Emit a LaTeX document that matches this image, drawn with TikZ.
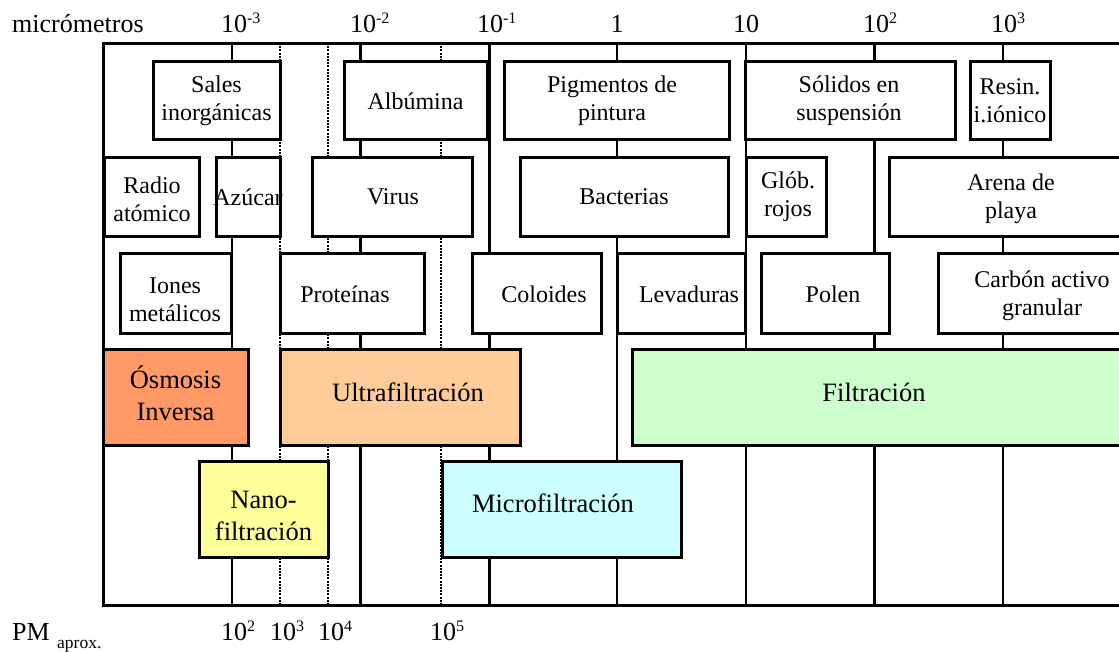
\documentclass[tikz,border=0pt]{standalone}
\usepackage{fontspec}
\setmainfont{Liberation Serif}
\newcommand\boxfont{\fontsize{24}{28}\selectfont}
\newcommand\procfont{\fontsize{26.5}{32}\selectfont}
\newcommand\axfont{\fontsize{26}{30}\selectfont}
\newcommand\supx[1]{\rlap{\raisebox{9pt}{\fontsize{16}{16}\selectfont #1}}}
\definecolor{cosm}{HTML}{FF9966}
\definecolor{cultra}{HTML}{FFCC99}
\definecolor{cnano}{HTML}{FFFF99}
\definecolor{cmicro}{HTML}{CCFFFF}
\definecolor{cfilt}{HTML}{CCFFCC}
\tikzset{
  gridthin/.style={line width=2.2pt},
  gridthick/.style={line width=3pt},
  griddot/.style={line width=2.4pt, dash pattern=on 2pt off 1.2pt},
  frameline/.style={line width=3pt},
  box/.style={draw, line width=3pt, fill=white, inner sep=0pt, outer sep=0pt},
  boxlbl/.style={font=\boxfont, align=center, inner sep=0pt},
  proclbl/.style={font=\procfont, align=center, inner sep=0pt},
  axlbl/.style={font=\axfont, inner sep=0pt},
}
\begin{document}
\begin{tikzpicture}[x=1pt,y=-1pt]
\useasboundingbox (0,0) rectangle (1119,651);
\clip (0,0) rectangle (1119,651);
% grid lines
\foreach \x in {232,617,746,1003} \draw[gridthin] (\x,43) -- (\x,605);
\foreach \x in {360,489,874} \draw[gridthick] (\x,43) -- (\x,605);
\foreach \x in {280,328,441} \draw[griddot] (\x,43) -- (\x,605);
\draw[frameline] (1130,43) -- (103,43) -- (103,605) -- (1130,605);

% row 1
\node[box, minimum width=127, minimum height=78] (sales) at (216.5,100) {};
\node[box, minimum width=143, minimum height=78] (albumina) at (415.5,100) {};
\node[box, minimum width=225, minimum height=78] (pigmentos) at (616.5,100) {};
\node[box, minimum width=210, minimum height=78] (solidos) at (850,100) {};
\node[box, minimum width=80, minimum height=78] (resin) at (1010,100) {};
% row 2
\node[box, minimum width=95, minimum height=79] (radio) at (151.5,196.5) {};
\node[box, minimum width=64, minimum height=79] (azucar) at (248,196.5) {};
\node[box, minimum width=160, minimum height=79] (virus) at (392,196.5) {};
\node[box, minimum width=208, minimum height=79] (bacterias) at (624,196.5) {};
\node[box, minimum width=80, minimum height=79] (globulos) at (786,196.5) {};
\node[box, minimum width=244, minimum height=79] (arena) at (1011,196.5) {};
% row 3
\node[box, minimum width=111, minimum height=80] (iones) at (175.5,293) {};
\node[box, minimum width=144, minimum height=80] (proteinas) at (352,293) {};
\node[box, minimum width=129, minimum height=80] (coloides) at (536.5,293) {};
\node[box, minimum width=128, minimum height=80] (levaduras) at (681,293) {};
\node[box, minimum width=128, minimum height=80] (polen) at (825,293) {};
\node[box, minimum width=208, minimum height=80] (carbon) at (1042,293) {};
% row 4
\node[box, fill=cosm, minimum width=145, minimum height=96] (osmosis) at (175.5,397) {};
\node[box, fill=cultra, minimum width=240, minimum height=96] (ultra) at (400,397) {};
\node[box, fill=cfilt, minimum width=508, minimum height=96] (filtr) at (886,397) {};
% row 5
\node[box, fill=cnano, minimum width=129, minimum height=96] (nano) at (263.5,509) {};
\node[box, fill=cmicro, minimum width=239, minimum height=96] (microf) at (561.5,509) {};

% labels
\node[boxlbl] (tsales) at (216.5,101) {Sales\\inorgánicas};
\node[boxlbl] (talb) at (415.5,101) {Albúmina};
\node[boxlbl] (tpig) at (612,101) {Pigmentos de\\pintura};
\node[boxlbl] (tsol) at (849,101) {Sólidos en\\suspensión};
\node[boxlbl] (tres) at (1010,101) {Resin.\\i.iónico};
\node[boxlbl] (trad) at (152,199) {Radio\\atómico};
\node[boxlbl] (tazu) at (248,197) {Azúcar};
\node[boxlbl] (tvir) at (393,197) {Virus};
\node[boxlbl] (tbac) at (624,197) {Bacterias};
\node[boxlbl] (tglo) at (788,197) {Glób.\\rojos};
\node[boxlbl] (tare) at (1011,199) {Arena de\\playa};
\node[boxlbl] (tion) at (175,300) {Iones\\metálicos};
\node[boxlbl] (tpro) at (345,294) {Proteínas};
\node[boxlbl] (tcol) at (544,294) {Coloides};
\node[boxlbl] (tlev) at (689,294) {Levaduras};
\node[boxlbl] (tpol) at (833,294) {Polen};
\node[boxlbl] (tcar) at (1042,296) {Carbón activo\\granular};
\node[proclbl] (tosm) at (175.5,393) {Ósmosis\\Inversa};
\node[proclbl] (tult) at (408,392) {Ultrafiltración};
\node[proclbl] (tfil) at (874,392) {Filtración};
\node[proclbl] (tnan) at (263.5,516) {Nano-\\filtración};
\node[proclbl] (tmic) at (553,503) {Microfiltración};

% axis labels top
\node[axlbl, anchor=base west] (microm) at (12,32) {micrómetros};
\node[axlbl, anchor=base] (a1) at (234,32) {10\supx{-3}};
\node[axlbl, anchor=base] (a2) at (363,32) {10\supx{-2}};
\node[axlbl, anchor=base] (a3) at (490,32) {10\supx{-1}};
\node[axlbl, anchor=base] (a4) at (617,32) {1};
\node[axlbl, anchor=base] (a5) at (746,32) {10};
\node[axlbl, anchor=base] (a6) at (876,32) {10\supx{2}};
\node[axlbl, anchor=base] (a7) at (1004,32) {10\supx{3}};
% axis labels bottom
\node[axlbl, anchor=base west] (pm) at (12,640) {PM};
\node[inner sep=0pt, anchor=base west, font=\fontsize{17.5}{18}\selectfont] (aprox) at (57,648) {aprox.};
\node[axlbl, anchor=base] (b1) at (234,640) {10\supx{2}};
\node[axlbl, anchor=base] (b2) at (283,640) {10\supx{3}};
\node[axlbl, anchor=base] (b3) at (331,640) {10\supx{4}};
\node[axlbl, anchor=base] (b4) at (443,640) {10\supx{5}};
\end{tikzpicture}
\end{document}
